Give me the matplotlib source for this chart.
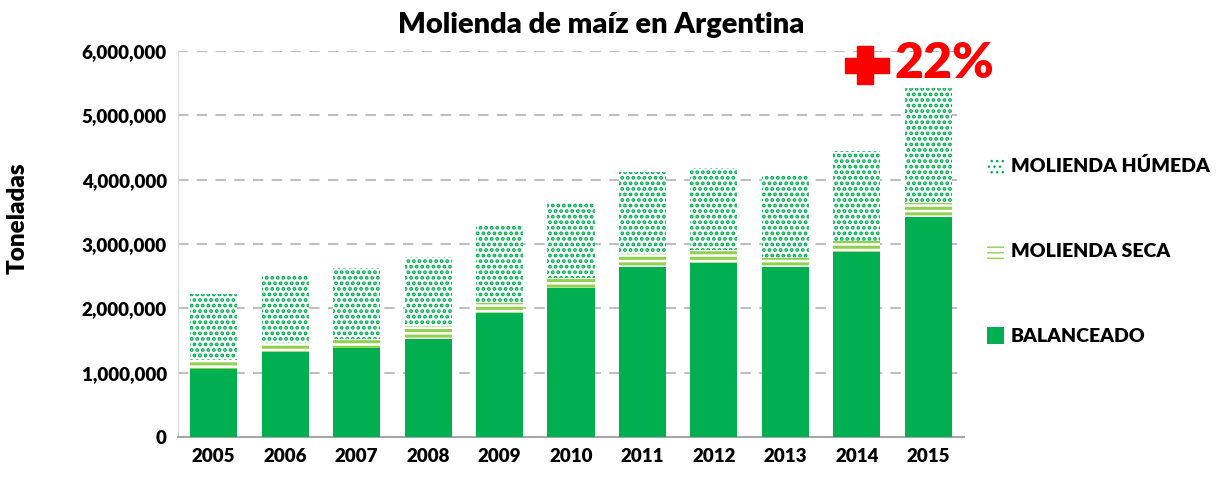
import matplotlib as mpl
import matplotlib.pyplot as plt
from matplotlib.patches import Patch, Rectangle
from matplotlib.ticker import FuncFormatter

plt.rcParams['font.family'] = ['Lato', 'DejaVu Sans']
plt.rcParams['font.weight'] = 'heavy'
plt.rcParams['axes.labelweight'] = 'heavy'

years = ['2005', '2006', '2007', '2008', '2009', '2010', '2011', '2012', '2013', '2014', '2015']
balanceado = [1057000, 1325000, 1389000, 1523000, 1930000, 2316000, 2647000, 2710000, 2647000, 2880000, 3425000]
seca = [140000, 141000, 141000, 207000, 150000, 154000, 198000, 197000, 143000, 167000, 208000]
humeda = [1023000, 1068000, 1097000, 1070000, 1200000, 1167000, 1279000, 1273000, 1260000, 1399000, 1792000]
labels = ['BALANCEADO', 'MOLIENDA SECA', 'MOLIENDA HÚMEDA']

fig = plt.figure(figsize=(12.22, 4.79), dpi=100)
ax = fig.add_axes([178/1222, 1-437/479, 786/1222, 386/479])

x = range(len(years))
w = 0.66
green = '#00B050'
light = '#92D050'

ax.bar(x, balanceado, w, color=green, linewidth=0, zorder=3)
bottom2 = [b for b in balanceado]
with mpl.rc_context({'hatch.linewidth': 2.2}):
    ax.bar(x, seca, w, bottom=bottom2, facecolor='white', edgecolor=light, hatch='---', linewidth=0, zorder=3)
    h_seca = Patch(facecolor='white', edgecolor=light, hatch='---', linewidth=0)
bottom3 = [b + s for b, s in zip(balanceado, seca)]
with mpl.rc_context({'hatch.linewidth': 1.9}):
    ax.bar(x, humeda, w, bottom=bottom3, facecolor='white', edgecolor=green, hatch='...', linewidth=0, zorder=3)
    h_hum = Patch(facecolor='white', edgecolor=green, hatch='...', linewidth=0)

ax.set_xlim(-0.5, len(years) - 0.5)
ax.set_ylim(0, 6000000)
ax.set_yticks(range(0, 6000001, 1000000))
ax.yaxis.set_major_formatter(FuncFormatter(lambda v, p: f'{int(v):,}'))
ax.set_xticks(list(x))
ax.set_xticklabels(years)
ax.tick_params(length=0, labelsize=13.5, pad=8)
ax.yaxis.grid(True, linestyle=(0, (5, 4)), color='#BFBFBF', linewidth=1.5, zorder=0)
for s in ['top', 'right']:
    ax.spines[s].set_visible(False)
ax.spines['left'].set_color('#D9D9D9')
ax.spines['bottom'].set_color('#A6A6A6')
ax.spines['bottom'].set_linewidth(1.5)

fig.text(18/1222, 1-218/479, 'Toneladas', rotation=90, ha='center', va='center', fontsize=17.5)
fig.text(601/1222, 1-25/479, 'Molienda de maíz en Argentina', ha='center', va='center', fontsize=21)

# red plus sign
fig.patches.append(Rectangle((857/1222, 1-84/479), 16/1222, 38/479, color='#FF0000', transform=fig.transFigure))
fig.patches.append(Rectangle((845/1222, 1-73/479), 44/1222, 15/479, color='#FF0000', transform=fig.transFigure))
fig.text(944/1222, 1-63/479, '22%', color='#FF0000', fontsize=36, ha='center', va='center')

handles = [h_hum, h_seca, Patch(facecolor=green, linewidth=0)]
fig.legend(handles, labels[::-1], loc='upper left', bbox_to_anchor=(969/1222, 1-140/479),
           frameon=False, fontsize=14, labelspacing=3.45, handlelength=0.9, handleheight=0.9,
           handletextpad=0.35)

fig.savefig('out.png', dpi=100)
